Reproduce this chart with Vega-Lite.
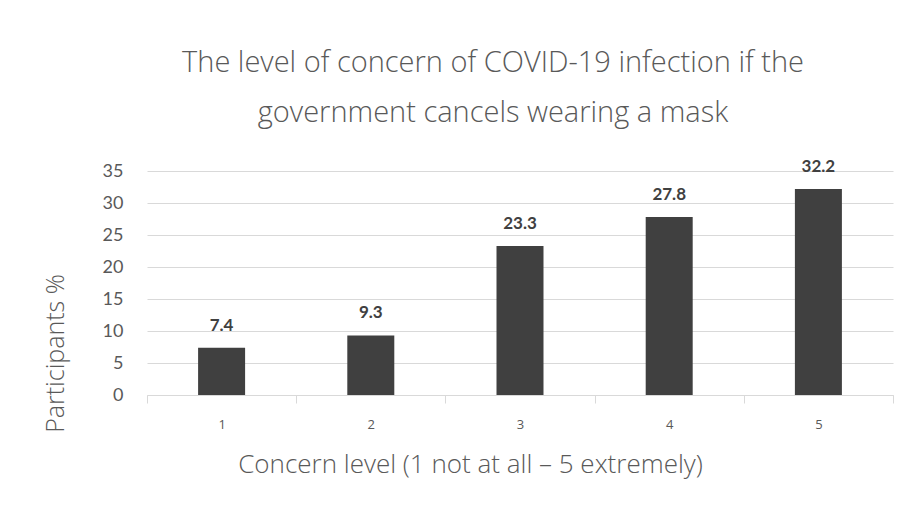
{
  "$schema": "https://vega.github.io/schema/vega-lite/v6.json",
  "width": 746,
  "height": 224,
  "autosize": {"type": "none"},
  "padding": {"left": 147, "top": 171, "right": 19, "bottom": 134},
  "background": "#ffffff",
  "title": {
    "text": ["The level of concern of COVID-19 infection if the", "government cancels wearing a mask"],
    "font": "Open Sans",
    "fontSize": 29,
    "fontWeight": 300,
    "color": "#595959",
    "lineHeight": 50,
    "anchor": "middle",
    "frame": "group",
    "dx": -27,
    "offset": 30
  },
  "data": {
    "values": [
      {"level": "1", "pct": 7.4},
      {"level": "2", "pct": 9.3},
      {"level": "3", "pct": 23.3},
      {"level": "4", "pct": 27.8},
      {"level": "5", "pct": 32.2}
    ]
  },
  "encoding": {
    "x": {
      "field": "level",
      "type": "ordinal",
      "scale": {"paddingInner": 0, "paddingOuter": 0},
      "axis": {
        "title": "Concern level (1 not at all – 5 extremely)",
        "titleFont": "Open Sans",
        "titleFontSize": 26,
        "titleFontWeight": 300,
        "titleColor": "#595959",
        "titleX": 323,
        "titleY": 77,
        "titleAlign": "center",
        "titleBaseline": "alphabetic",
        "labelAngle": 0,
        "labelFont": "Open Sans",
        "labelFontSize": 13,
        "labelColor": "#595959",
        "labelPadding": 15,
        "tickBand": "extent",
        "tickSize": 8,
        "tickColor": "#d9d9d9",
        "domainColor": "#d9d9d9",
        "grid": false
      }
    },
    "y": {
      "field": "pct",
      "type": "quantitative",
      "scale": {"domain": [0, 35], "nice": false},
      "axis": {
        "title": "Participants %",
        "values": [0, 5, 10, 15, 20, 25, 30, 35],
        "titleFont": "Open Sans",
        "titleFontSize": 25,
        "titleFontWeight": 300,
        "titleColor": "#595959",
        "titleAngle": 270,
        "titleX": -84,
        "titleY": 182,
        "titleAlign": "center",
        "titleBaseline": "alphabetic",
        "labelFont": "Lato",
        "labelFontSize": 18,
        "labelColor": "#595959",
        "labelPadding": 24,
        "ticks": false,
        "domain": false,
        "grid": true,
        "gridColor": "#d9d9d9",
        "gridWidth": 1
      }
    }
  },
  "layer": [
    {"mark": {"type": "bar", "color": "#404040", "width": {"band": 0.315}}},
    {
      "mark": {
        "type": "text",
        "baseline": "alphabetic",
        "dy": -17,
        "font": "Lato",
        "fontSize": 17,
        "fontWeight": "bold",
        "color": "#404040"
      },
      "encoding": {"text": {"field": "pct", "type": "quantitative", "format": ".1f"}}
    }
  ],
  "config": {"view": {"stroke": null}}
}
